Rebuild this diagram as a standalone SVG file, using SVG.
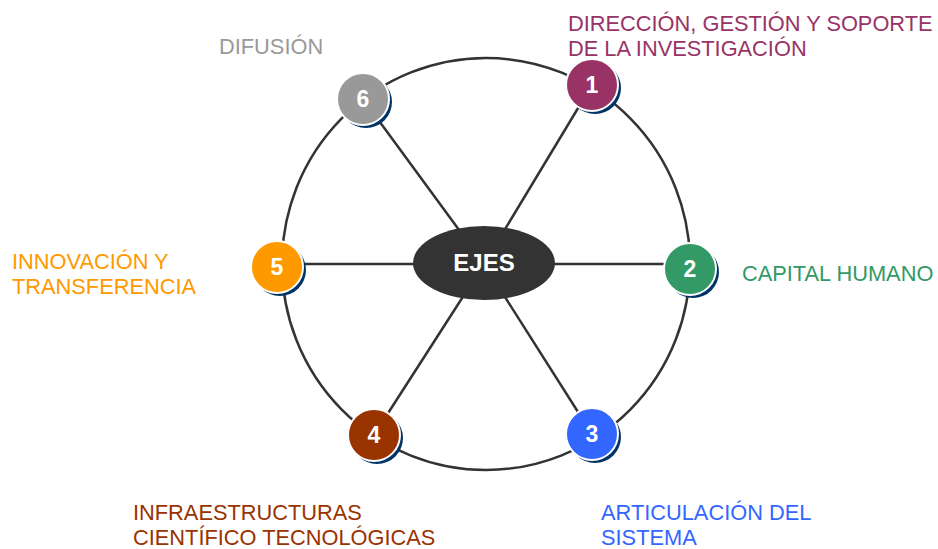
<svg xmlns="http://www.w3.org/2000/svg" width="938" height="549" viewBox="0 0 938 549">
<style>
.spoke{stroke:#333333;stroke-width:2.5;fill:none}
.ring{stroke:#333333;stroke-width:2.5;fill:none}
.node{stroke:#ffffff;stroke-width:2}
.shadow{fill:#003366}
.num{font-family:"Liberation Sans",Arial,sans-serif;font-weight:bold;font-size:23px;fill:#ffffff;text-anchor:middle}
.lbl{font-family:"Liberation Sans",Arial,sans-serif;font-size:21.8px}
</style>
<rect width="938" height="549" fill="#ffffff"/>
<g id="connectors">
<ellipse class="ring" cx="486" cy="264" rx="204" ry="206"/>
<line class="spoke" x1="484" y1="264" x2="592" y2="85"/>
<line class="spoke" x1="484" y1="264" x2="690" y2="264"/>
<line class="spoke" x1="484" y1="264" x2="592" y2="434"/>
<line class="spoke" x1="484" y1="264" x2="374" y2="435"/>
<line class="spoke" x1="484" y1="264" x2="277" y2="264"/>
<line class="spoke" x1="484" y1="264" x2="363" y2="99"/>
</g>
<g id="center">
<ellipse cx="484" cy="263" rx="71" ry="37" fill="#333333"/>
<text x="484" y="271" font-family="'Liberation Sans',Arial,sans-serif" font-weight="bold" font-size="24" fill="#ffffff" text-anchor="middle">EJES</text>
</g>
<g id="node1">
<circle class="shadow" cx="595" cy="88" r="26"/>
<circle class="node" cx="592" cy="85" r="26" fill="#993366"/>
<text class="num" x="592" y="93">1</text>
<text class="lbl" fill="#993366" x="568" y="31">DIRECCIÓN, GESTIÓN Y SOPORTE</text>
<text class="lbl" fill="#993366" x="568" y="56">DE LA INVESTIGACIÓN</text>
</g>
<g id="node2">
<circle class="shadow" cx="693" cy="272" r="26"/>
<circle class="node" cx="690" cy="269" r="26" fill="#339966"/>
<text class="num" x="690" y="277">2</text>
<text class="lbl" fill="#339966" x="742" y="281">CAPITAL HUMANO</text>
</g>
<g id="node3">
<circle class="shadow" cx="595" cy="437" r="26"/>
<circle class="node" cx="592" cy="434" r="26" fill="#3366ff"/>
<text class="num" x="592" y="442">3</text>
<text class="lbl" fill="#3366ff" x="601" y="520">ARTICULACIÓN DEL</text>
<text class="lbl" fill="#3366ff" x="601" y="545">SISTEMA</text>
</g>
<g id="node4">
<circle class="shadow" cx="377" cy="438" r="26"/>
<circle class="node" cx="374" cy="435" r="26" fill="#993300"/>
<text class="num" x="374" y="443">4</text>
<text class="lbl" fill="#993300" x="133" y="520">INFRAESTRUCTURAS</text>
<text class="lbl" fill="#993300" x="133" y="545">CIENTÍFICO TECNOLÓGICAS</text>
</g>
<g id="node5">
<circle class="shadow" cx="280" cy="270" r="26"/>
<circle class="node" cx="277" cy="267" r="26" fill="#ff9900"/>
<text class="num" x="277" y="275">5</text>
<text class="lbl" fill="#ff9900" x="12" y="269">INNOVACIÓN Y</text>
<text class="lbl" fill="#ff9900" x="12" y="294">TRANSFERENCIA</text>
</g>
<g id="node6">
<circle class="shadow" cx="366" cy="102" r="26"/>
<circle class="node" cx="363" cy="99" r="26" fill="#999999"/>
<text class="num" x="363" y="107">6</text>
<text class="lbl" fill="#999999" x="219" y="54">DIFUSIÓN</text>
</g>
</svg>
